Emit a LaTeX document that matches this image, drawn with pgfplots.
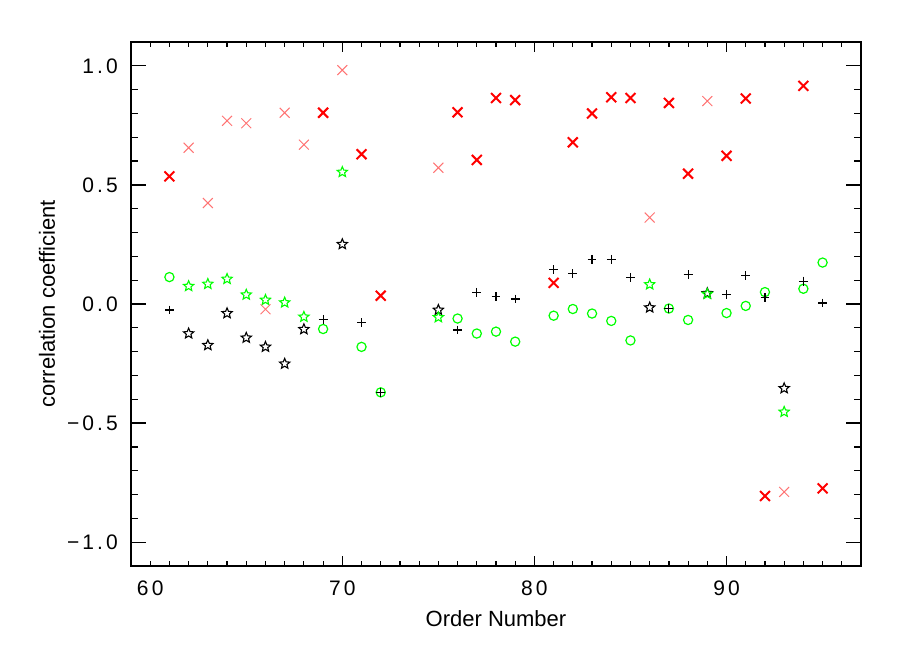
\documentclass[border=0pt]{standalone}
\usepackage{fontspec}
\setmainfont{Liberation Sans}
\newfontfamily\tickfont{Liberation Sans}[LetterSpace=15]
\usepackage{pgfplots}
\pgfplotsset{compat=1.18}
\definecolor{idlred}{RGB}{255,0,0}
\definecolor{idlpink}{RGB}{255,115,115}
\definecolor{idlgreen}{RGB}{0,255,0}
\pgfdeclareplotmark{ostar}{%
  \pgfpathmoveto{\pgfpointpolar{90}{\pgfplotmarksize}}%
  \pgfpathlineto{\pgfpointpolar{126}{0.45\pgfplotmarksize}}%
  \pgfpathlineto{\pgfpointpolar{162}{\pgfplotmarksize}}%
  \pgfpathlineto{\pgfpointpolar{198}{0.45\pgfplotmarksize}}%
  \pgfpathlineto{\pgfpointpolar{234}{\pgfplotmarksize}}%
  \pgfpathlineto{\pgfpointpolar{270}{0.45\pgfplotmarksize}}%
  \pgfpathlineto{\pgfpointpolar{306}{\pgfplotmarksize}}%
  \pgfpathlineto{\pgfpointpolar{342}{0.45\pgfplotmarksize}}%
  \pgfpathlineto{\pgfpointpolar{18}{\pgfplotmarksize}}%
  \pgfpathlineto{\pgfpointpolar{54}{0.45\pgfplotmarksize}}%
  \pgfpathclose\pgfusepathqstroke}
\pgfplotsset{
  base/.style={at={(0,0)}, anchor=south west, scale only axis,
    width=365pt, height=262pt, xmin=59, xmax=97, ymin=-1.1, ymax=1.1,
    tick style={black, line width=0.6pt}, axis line style={line width=0.6pt},
    /pgf/number format/assume math mode=true,
    ticklabel style={font=\tickfont\fontsize{10.5}{12}\selectfont},
    label style={font=\fontsize{11}{13}\selectfont}},
}
\begin{document}
\begin{tikzpicture}
\useasboundingbox (-65.5pt,-42pt) rectangle (384.5pt,283pt);
\begin{axis}[base, xtick=\empty,
  ytick={-1,-0.5,0,0.5,1}, yticklabels={−1.0,−0.5,0.0,0.5,1.0},
  minor ytick={-1,-0.9,...,1},
  major tick length=7.3pt, minor tick length=3.6pt,
  yticklabel style={xshift=-3pt},
  ylabel={correlation coefficient},
  ylabel style={at={(axis description cs:-0.115,0.5)}, anchor=center},
  clip=false]
\addplot[only marks, mark=x, mark size=3.5pt, color=idlred, line width=1pt] coordinates {
(61,0.536)(69,0.803)(71,0.629)(72,0.035)(76,0.805)(77,0.605)(78,0.865)(79,0.856)(81,0.089)(82,0.679)(83,0.800)(84,0.868)(85,0.865)(87,0.844)(88,0.547)(90,0.622)(91,0.863)(92,-0.806)(94,0.916)(95,-0.774)};
\addplot[only marks, mark=x, mark size=3.5pt, color=idlpink, line width=0.5pt] coordinates {
(62,0.656)(63,0.424)(64,0.769)(65,0.759)(66,-0.022)(67,0.803)(68,0.669)(70,0.982)(75,0.572)(86,0.363)(89,0.852)(93,-0.789)};
\addplot[only marks, mark=o, mark size=2.3pt, color=idlgreen, line width=0.6pt] coordinates {
(61,0.113)(69,-0.105)(71,-0.180)(72,-0.371)(76,-0.061)(77,-0.124)(78,-0.116)(79,-0.158)(81,-0.049)(82,-0.021)(83,-0.040)(84,-0.071)(85,-0.153)(87,-0.019)(88,-0.067)(90,-0.038)(91,-0.008)(92,0.050)(94,0.064)(95,0.174)};
\addplot[only marks, mark=+, mark size=2.2pt, color=black, line width=0.6pt] coordinates {
(61,-0.025)(69,-0.064)(71,-0.078)(72,-0.371)(76,-0.109)(77,0.049)(78,0.031)(79,0.021)(81,0.144)(82,0.127)(83,0.188)(84,0.188)(85,0.112)(87,-0.019)(88,0.124)(90,0.041)(91,0.120)(92,0.027)(94,0.096)(95,0.004)};
\addplot[only marks, mark=ostar, mark size=2.7pt, color=black, line width=0.55pt] coordinates {
(62,-0.124)(63,-0.173)(64,-0.039)(65,-0.142)(66,-0.180)(67,-0.251)(68,-0.106)(70,0.251)(75,-0.025)(86,-0.015)(89,0.045)(93,-0.354)};
\addplot[only marks, mark=ostar, mark size=2.7pt, color=idlgreen, line width=0.55pt] coordinates {
(62,0.075)(63,0.084)(64,0.105)(65,0.039)(66,0.017)(67,0.006)(68,-0.054)(70,0.554)(75,-0.056)(86,0.082)(89,0.042)(93,-0.453)};
\end{axis}
\begin{axis}[base, ytick=\empty,
  xtick={70,80,90}, minor xtick={59,...,97},
  extra x ticks={60}, extra x tick style={major tick length=0pt},
  major tick length=5pt, minor tick length=2.5pt,
  xticklabel style={yshift=-4pt},
  xlabel={Order Number},
  xlabel style={at={(axis description cs:0.5,-0.101)}, anchor=center}]
\end{axis}
\end{tikzpicture}
\end{document}
